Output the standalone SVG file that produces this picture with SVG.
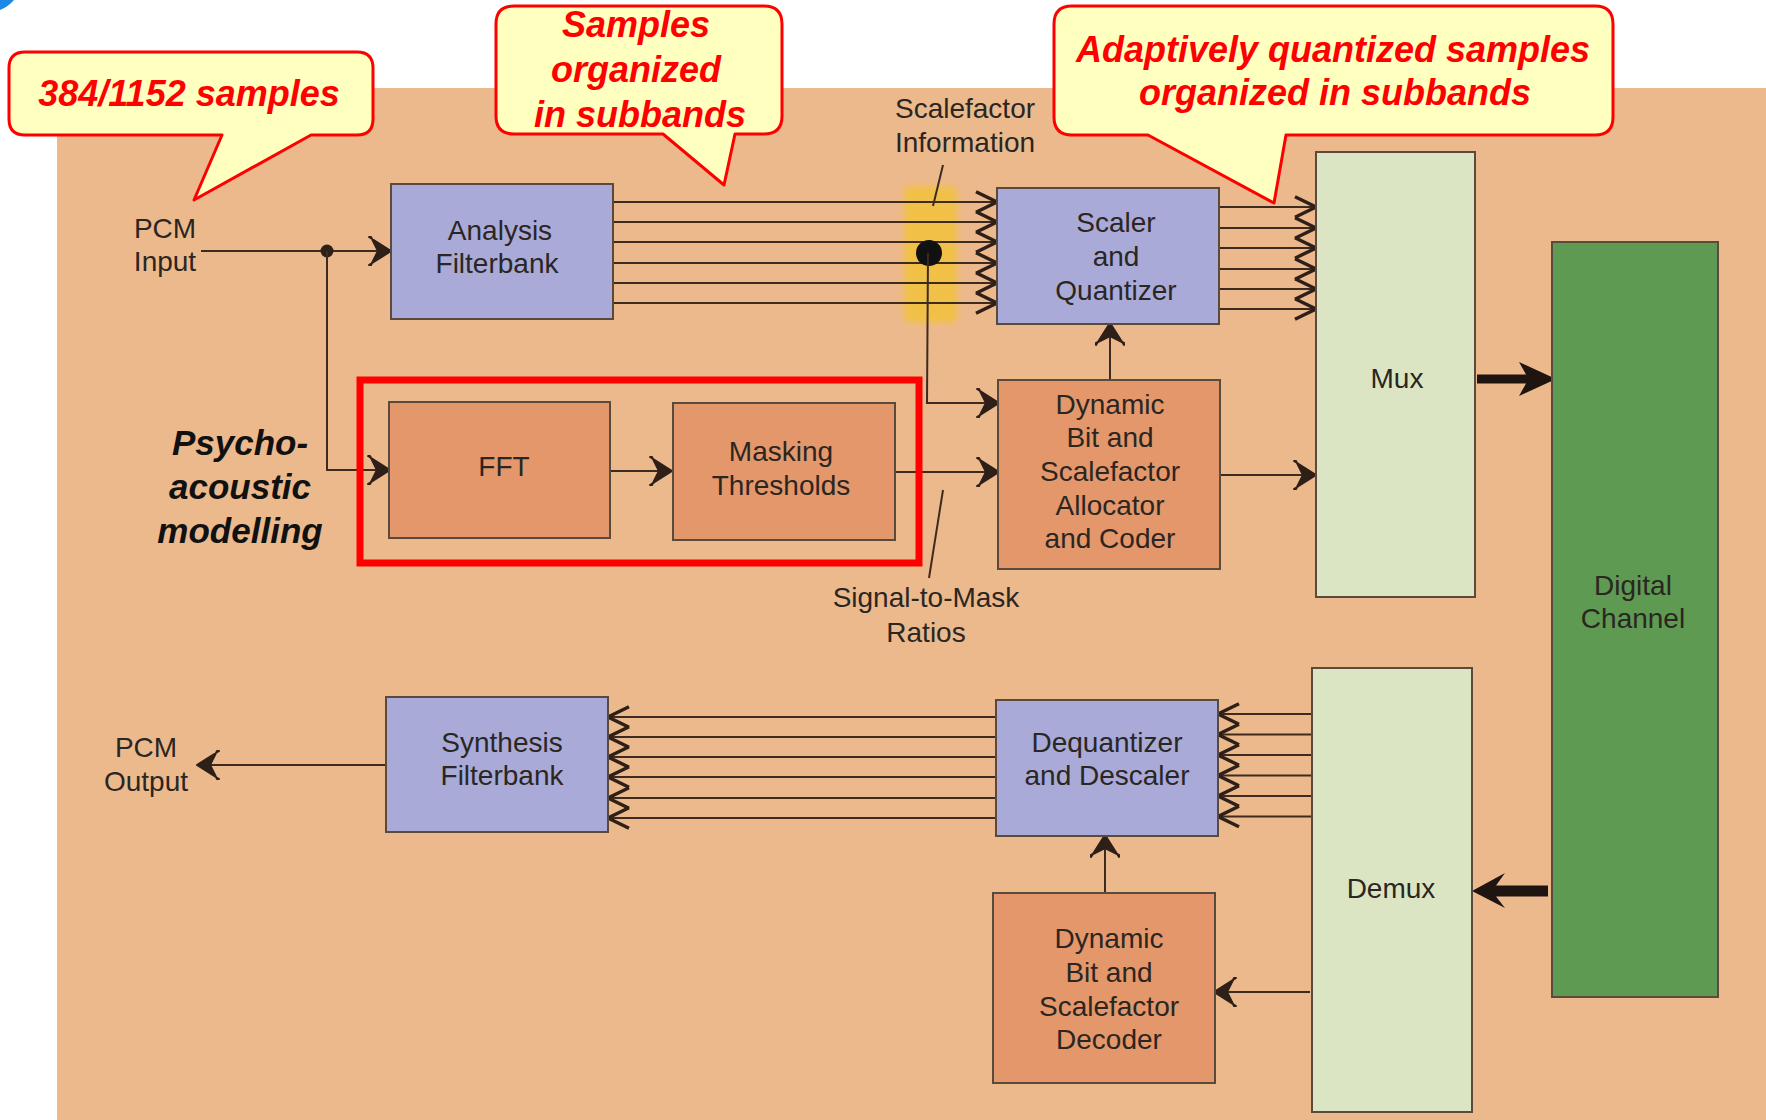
<svg xmlns="http://www.w3.org/2000/svg" width="1766" height="1120" viewBox="0 0 1766 1120">
  <style>
    .lbl { font-family: "Liberation Sans", Arial, sans-serif; font-size: 28px; fill: #2b2622; text-anchor: middle; }
    .note { font-family: "Liberation Sans", Arial, sans-serif; font-size: 36px; font-weight: bold; font-style: italic; fill: #ff0000; text-anchor: middle; }
    .psy { font-family: "Liberation Sans", Arial, sans-serif; font-size: 35px; font-weight: bold; font-style: italic; fill: #111; text-anchor: middle; }
    .box { stroke: #5a4a3e; stroke-width: 2; }
    .blue { fill: #a9aad8; }
    .orange { fill: #e3976b; }
    .pale { fill: #dbe5c3; }
    .green { fill: #5f9a52; }
    .wire { fill: none; stroke: #3e2b20; stroke-width: 2; }
    .arr { marker-end: url(#head); }
    .barr { marker-end: url(#bhead); }
    .callout { fill: #ffffc0; stroke: #ff0000; stroke-width: 3; stroke-linejoin: round; }
  </style>
  <defs>
    <!-- single arrowhead: tapered chevron -->
    <marker id="head" markerUnits="userSpaceOnUse" viewBox="-26 -17 30 34" markerWidth="30" markerHeight="34" refX="0" refY="0" orient="auto">
      <path d="M1,0 L-21,-14 L-19,-14 L-12,0 L-19,14 L-21,14 Z" fill="#2e2018" stroke="#2e2018" stroke-width="2" stroke-linejoin="round"/>
    </marker>
    <!-- stacked subband arrowheads: chevrons that join into a zigzag -->
    <marker id="bhead" markerUnits="userSpaceOnUse" viewBox="-26 -14 30 28" markerWidth="30" markerHeight="28" refX="0" refY="0" orient="auto">
      <path d="M-21,-10.2 L0,0 L-21,10.2" fill="none" stroke="#2e2018" stroke-width="3.5" stroke-linejoin="miter"/>
    </marker>
    <filter id="soft" x="-20%" y="-10%" width="140%" height="120%">
      <feGaussianBlur stdDeviation="3"/>
    </filter>
  </defs>

  <!-- page -->
  <rect x="0" y="0" width="1766" height="1120" fill="#ffffff"/>
  <rect x="57" y="88" width="1709" height="1032" fill="#ecb98d"/>
  <path d="M0,0 H14 Q8,7 0,10 Z" fill="#1e88e5"/>

  <!-- scalefactor highlight -->
  <rect x="904" y="186" width="53" height="137" rx="6" fill="#f3c23a" opacity="0.85" filter="url(#soft)"/>

  <!-- connectors -->
  <g id="connectors">
    <!-- PCM input and branch to FFT -->
    <line class="wire arr" x1="201" y1="251" x2="390" y2="251"/>
    <circle cx="327" cy="251" r="6.5" fill="#2e2018"/>
    <polyline class="wire arr" points="327,251 327,470 389,470"/>
    <!-- analysis subbands to scaler -->
    <g class="wire barr">
      <line x1="613" y1="202" x2="997" y2="202"/>
      <line x1="613" y1="222" x2="997" y2="222"/>
      <line x1="613" y1="242" x2="997" y2="242"/>
      <line x1="613" y1="263" x2="997" y2="263"/>
      <line x1="613" y1="283" x2="997" y2="283"/>
      <line x1="613" y1="303" x2="997" y2="303"/>
    </g>
    <!-- scalefactor information tap -->
    <circle cx="929" cy="253" r="13" fill="#111"/>
    <polyline class="wire arr" points="928,253 927,403 998,403"/>
    <line class="wire" x1="943" y1="165" x2="933" y2="206" stroke-width="1.5"/>
    <!-- scaler to mux -->
    <g class="wire barr">
      <line x1="1219" y1="207" x2="1316" y2="207"/>
      <line x1="1219" y1="228" x2="1316" y2="228"/>
      <line x1="1219" y1="248" x2="1316" y2="248"/>
      <line x1="1219" y1="269" x2="1316" y2="269"/>
      <line x1="1219" y1="289" x2="1316" y2="289"/>
      <line x1="1219" y1="309" x2="1316" y2="309"/>
    </g>
    <!-- psychoacoustic path -->
    <line class="wire arr" x1="610" y1="471" x2="671" y2="471"/>
    <line class="wire arr" x1="895" y1="472" x2="998" y2="472"/>
    <line class="wire" x1="943" y1="490" x2="929" y2="578" stroke-width="1.5"/>
    <!-- allocator outputs -->
    <line class="wire arr" x1="1110" y1="380" x2="1110" y2="324"/>
    <line class="wire arr" x1="1220" y1="475" x2="1315" y2="475"/>
    <!-- mux to channel, channel to demux -->
    <path d="M1477,374.5 H1526 L1519,362 L1556,379 L1519,396 L1526,383.5 H1477 Z" fill="#1e1510"/>
    <path d="M1548,885.5 H1496 L1505,873 L1472,891 L1505,908 L1496,896.5 H1548 Z" fill="#1e1510"/>
    <!-- demux subbands to dequantizer -->
    <g class="wire barr">
      <line x1="1312" y1="714" x2="1218" y2="714"/>
      <line x1="1312" y1="734.5" x2="1218" y2="734.5"/>
      <line x1="1312" y1="755" x2="1218" y2="755"/>
      <line x1="1312" y1="775.5" x2="1218" y2="775.5"/>
      <line x1="1312" y1="796" x2="1218" y2="796"/>
      <line x1="1312" y1="816.5" x2="1218" y2="816.5"/>
    </g>
    <!-- dequantizer subbands to synthesis -->
    <g class="wire barr">
      <line x1="996" y1="717" x2="608" y2="717"/>
      <line x1="996" y1="737" x2="608" y2="737"/>
      <line x1="996" y1="757" x2="608" y2="757"/>
      <line x1="996" y1="777" x2="608" y2="777"/>
      <line x1="996" y1="798" x2="608" y2="798"/>
      <line x1="996" y1="818" x2="608" y2="818"/>
    </g>
    <line class="wire arr" x1="386" y1="765" x2="198" y2="765" stroke-width="1.5"/>
    <line class="wire arr" x1="1310" y1="992" x2="1215" y2="992"/>
    <line class="wire arr" x1="1105" y1="893" x2="1105" y2="836"/>
  </g>

  <!-- free labels -->
  <g id="pcm-input">
    <text class="lbl" x="165" y="238">PCM</text>
    <text class="lbl" x="165" y="271">Input</text>
  </g>
  <g id="pcm-output">
    <text class="lbl" x="146" y="757">PCM</text>
    <text class="lbl" x="146" y="791">Output</text>
  </g>
  <g id="scalefactor-info">
    <text class="lbl" x="965" y="118">Scalefactor</text>
    <text class="lbl" x="965" y="152">Information</text>
  </g>
  <g id="smr">
    <text class="lbl" x="926" y="607">Signal-to-Mask</text>
    <text class="lbl" x="926" y="642">Ratios</text>
  </g>
  <g id="psycho-label">
    <text class="psy" x="240" y="455">Psycho-</text>
    <text class="psy" x="240" y="499">acoustic</text>
    <text class="psy" x="240" y="543">modelling</text>
  </g>

  <!-- blocks -->
  <g id="analysis-filterbank">
    <rect class="box blue" x="391" y="184" width="222" height="135"/>
    <text class="lbl" x="500" y="240">Analysis</text>
    <text class="lbl" x="497" y="273">Filterbank</text>
  </g>
  <g id="scaler-quantizer">
    <rect class="box blue" x="997" y="188" width="222" height="136"/>
    <text class="lbl" x="1116" y="232">Scaler</text>
    <text class="lbl" x="1116" y="266">and</text>
    <text class="lbl" x="1116" y="300">Quantizer</text>
  </g>
  <g id="fft">
    <rect class="box orange" x="389" y="402" width="221" height="136"/>
    <text class="lbl" x="504" y="476">FFT</text>
  </g>
  <g id="masking-thresholds">
    <rect class="box orange" x="673" y="403" width="222" height="137"/>
    <text class="lbl" x="781" y="461">Masking</text>
    <text class="lbl" x="781" y="495">Thresholds</text>
  </g>
  <g id="psycho-frame">
    <rect x="360" y="380" width="559" height="183" fill="none" stroke="#ff0000" stroke-width="7"/>
  </g>
  <g id="bit-allocator">
    <rect class="box orange" x="998" y="380" width="222" height="189"/>
    <text class="lbl" x="1110" y="414">Dynamic</text>
    <text class="lbl" x="1110" y="447">Bit and</text>
    <text class="lbl" x="1110" y="481">Scalefactor</text>
    <text class="lbl" x="1110" y="515">Allocator</text>
    <text class="lbl" x="1110" y="548">and Coder</text>
  </g>
  <g id="mux">
    <rect class="box pale" x="1316" y="152" width="159" height="445"/>
    <text class="lbl" x="1397" y="388">Mux</text>
  </g>
  <g id="digital-channel">
    <rect class="box green" x="1552" y="242" width="166" height="755"/>
    <text class="lbl" x="1633" y="595">Digital</text>
    <text class="lbl" x="1633" y="628">Channel</text>
  </g>
  <g id="demux">
    <rect class="box pale" x="1312" y="668" width="160" height="444"/>
    <text class="lbl" x="1391" y="898">Demux</text>
  </g>
  <g id="dequantizer">
    <rect class="box blue" x="996" y="700" width="222" height="136"/>
    <text class="lbl" x="1107" y="752">Dequantizer</text>
    <text class="lbl" x="1107" y="785">and Descaler</text>
  </g>
  <g id="synthesis-filterbank">
    <rect class="box blue" x="386" y="697" width="222" height="135"/>
    <text class="lbl" x="502" y="752">Synthesis</text>
    <text class="lbl" x="502" y="785">Filterbank</text>
  </g>
  <g id="bit-decoder">
    <rect class="box orange" x="993" y="893" width="222" height="190"/>
    <text class="lbl" x="1109" y="948">Dynamic</text>
    <text class="lbl" x="1109" y="982">Bit and</text>
    <text class="lbl" x="1109" y="1016">Scalefactor</text>
    <text class="lbl" x="1109" y="1049">Decoder</text>
  </g>

  <!-- callouts -->
  <g id="callout-samples">
    <path class="callout" d="M25,52 H357 Q373,52 373,68 V119 Q373,135 357,135 H311 L194,200 L222,135 H25 Q9,135 9,119 V68 Q9,52 25,52 Z"/>
    <text class="note" x="189" y="106">384/1152 samples</text>
  </g>
  <g id="callout-subbands">
    <path class="callout" d="M514,6 H764 Q782,6 782,24 V116 Q782,134 764,134 H735 L724,185 L663,134 H514 Q496,134 496,116 V24 Q496,6 514,6 Z"/>
    <text class="note" x="636" y="37">Samples</text>
    <text class="note" x="636" y="82">organized</text>
    <text class="note" x="640" y="127">in subbands</text>
  </g>
  <g id="callout-quantized">
    <path class="callout" d="M1072,6 H1595 Q1613,6 1613,24 V117 Q1613,135 1595,135 H1286 L1274,203 L1148,135 H1072 Q1054,135 1054,117 V24 Q1054,6 1072,6 Z"/>
    <text class="note" x="1333" y="62">Adaptively quantized samples</text>
    <text class="note" x="1335" y="105">organized in subbands</text>
  </g>
</svg>
